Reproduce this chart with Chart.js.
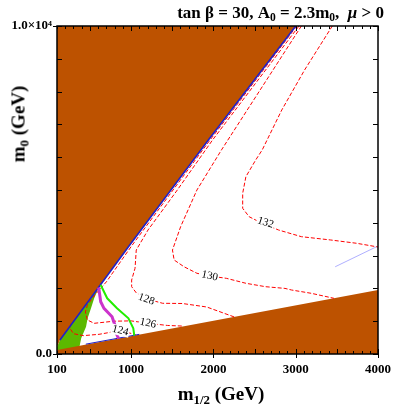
<!DOCTYPE html>
<html>
<head>
<meta charset="utf-8">
<script src="https://cdn.jsdelivr.net/npm/chart.js@4.4.1/dist/chart.umd.min.js"></script>
<style>
  body { margin: 0; background: #fff; }
  #wrap { position: relative; width: 399px; height: 415px; font-family: 'Liberation Serif', 'DejaVu Serif', serif; }
  #plot { position: absolute; left: 0; top: 0; }
  .lbl { position: absolute; font-weight: bold; color: #000; white-space: nowrap; line-height: 1; }
  .lbl sub { font-size: 0.68em; vertical-align: -0.3em; line-height: 0; }
  #title { right: 15px; top: 4px; font-size: 17px; }
  #xtitle { left: 221px; top: 384px; font-size: 19px; transform: translateX(-50%); }
  #ytitle { left: 18px; top: 124px; font-size: 19px; transform: translate(-50%, -50%) rotate(-90deg); }
</style>
</head>
<body>
<div id="wrap">
  <canvas id="plot" width="399" height="415"></canvas>
  <div class="lbl" id="title">tan β = 30, A<sub>0</sub> = 2.3m<sub>0</sub>,&nbsp; <i>μ</i> &gt; 0</div>
  <div class="lbl" id="xtitle">m<sub>1/2</sub> (GeV)</div>
  <div class="lbl" id="ytitle">m<sub>0</sub> (GeV)</div>
</div>
<script>
// axis ticks
const m12Ticks = [100, 1000, 2000, 3000, 4000];
const m0Ticks = [0, 10000];
const m0TickLabels = ['0.0', '1.0×10⁴'];

// excluded regions (brown)
const brownLeftX = [100, 136, 611, 968, 1939, 3001, 100];
const brownLeftY = [213, 427, 2052, 3272, 6525, 10000, 10000];
const brownLowX = [100, 100, 4000, 4000];
const brownLowY = [0, 122, 1950, 0];

// green shaded region
const greenX = [100, 100, 136, 611, 552, 513, 472, 453, 394, 373, 380];
const greenY = [100, 213, 427, 2052, 1698, 1393, 1088, 832, 479, 223, 150];

// boundary / constraint lines
const blueX = [136, 611, 968, 1939, 3001];
const blueY = [427, 2052, 3272, 6525, 10000];
const blueLowX = [450, 1100];
const blueLowY = [300, 600];
const faintX = [3480, 3990];
const faintY = [2660, 3280];
const limeX = [631, 710, 829, 968, 1027, 1039];
const limeY = [2104, 1698, 1393, 1088, 784, 560];
const magX = [605, 611, 631, 671, 769, 810, 829, 849];
const magY = [2030, 1951, 1595, 1393, 1137, 832, 579, 470];

// Higgs mass contours (GeV)
const h124X = [270, 258, 300, 420, 611, 790, 869, 960, 1060];
const h124Y = [930, 780, 620, 560, 600, 680, 710, 660, 575];
const h126X = [3013, 1960, 1000, 700, 560, 469, 445, 469, 552, 790, 1000, 1206, 1444, 1640];
const h126Y = [10000, 6525, 3272, 2200, 1800, 1494, 1281, 1037, 936, 1000, 1010, 936, 870, 850];
const h128X = [3040, 1990, 1562, 1206, 1063, 1048, 1007, 1007, 1067, 1206, 1384, 1622, 1919, 2252];
const h128Y = [10000, 6525, 5000, 3781, 3171, 2613, 2256, 2052, 1851, 1668, 1546, 1540, 1433, 1131];
const h130X = [3069, 2098, 1800, 1602, 1503, 1523, 1642, 1800, 1955, 2157, 2395, 2633, 2870, 2950, 3188, 3465];
const h130Y = [10000, 6220, 5000, 3881, 3171, 2866, 2662, 2461, 2378, 2308, 2156, 2052, 2000, 1951, 1851, 1698];
const h132X = [3445, 3108, 2831, 2593, 2514, 2395, 2356, 2356, 2434, 2553, 2791, 3069, 3426, 3742, 4000];
const h132Y = [10000, 8659, 7440, 6220, 5915, 5406, 4900, 4442, 4186, 4034, 3781, 3577, 3476, 3375, 3262];

const contourNames = ['124', '126', '128', '130', '132'];
const contourLabelX = [869, 1206, 1185, 1955, 2633];
const contourLabelY = [710, 936, 1668, 2378, 4003];
const contourLabelAngle = [14, 12, 20, 12, 18];

const BROWN = '#bd5200';
const toPts = (xs, ys) => xs.map((x, i) => ({ x, y: ys[i] }));

function area(xs, ys, color, order) {
  return { data: toPts(xs, ys), fill: 'shape', backgroundColor: color, borderWidth: 0,
           pointRadius: 0, tension: 0, order };
}
function curve(xs, ys, color, width, dash, order) {
  return { data: toPts(xs, ys), fill: false, borderColor: color, borderWidth: width,
           borderDash: dash, pointRadius: 0, tension: 0, order };
}

const serif = 'Liberation Serif';

const framePlugin = {
  id: 'frame',
  afterDatasetsDraw(chart) {
    const { ctx, chartArea: a, scales } = chart;
    ctx.save();
    // contour labels
    ctx.font = '11px ' + serif;
    ctx.textAlign = 'center';
    ctx.textBaseline = 'middle';
    contourNames.forEach((t, i) => {
      const px = scales.x.getPixelForValue(contourLabelX[i]);
      const py = scales.y.getPixelForValue(contourLabelY[i]);
      ctx.save();
      ctx.translate(px, py);
      ctx.rotate(contourLabelAngle[i] * Math.PI / 180);
      const w = ctx.measureText(t).width;
      ctx.fillStyle = '#fff';
      ctx.fillRect(-w / 2 - 1, -5, w + 2, 10);
      ctx.fillStyle = '#000';
      ctx.fillText(t, 0, 0);
      ctx.restore();
    });
    // frame
    ctx.strokeStyle = '#000';
    ctx.lineWidth = 1.5;
    ctx.strokeRect(a.left, a.top, a.right - a.left, a.bottom - a.top);
    ctx.lineWidth = 1;
    ctx.beginPath();
    for (let v = 100; v <= 4000; v += 100) {
      const px = Math.round(scales.x.getPixelForValue(v)) + 0.5;
      const len = v % 500 === 0 ? 5 : 3;
      ctx.moveTo(px, a.bottom); ctx.lineTo(px, a.bottom - len);
      ctx.moveTo(px, a.top); ctx.lineTo(px, a.top + len);
    }
    for (let v = 0; v <= 10000; v += 1000) {
      const py = Math.round(scales.y.getPixelForValue(v)) + 0.5;
      ctx.moveTo(a.left, py); ctx.lineTo(a.left + 5, py);
      ctx.moveTo(a.right, py); ctx.lineTo(a.right - 5, py);
    }
    m12Ticks.forEach(v => {
      const px = Math.round(scales.x.getPixelForValue(v)) + 0.5;
      ctx.moveTo(px, a.bottom); ctx.lineTo(px, a.bottom + 4);
    });
    m0Ticks.forEach(v => {
      const py = Math.round(scales.y.getPixelForValue(v)) + 0.5;
      ctx.moveTo(a.left, py); ctx.lineTo(a.left - 4, py);
    });
    ctx.stroke();
    ctx.restore();
  }
};

new Chart(document.getElementById('plot'), {
  type: 'line',
  data: {
    datasets: [
      area(greenX, greenY, '#5cb800', 12),
      area(brownLeftX, brownLeftY, BROWN, 11),
      area(brownLowX, brownLowY, BROWN, 11),
      curve(faintX, faintY, 'rgba(110,110,255,0.55)', 1, [], 8),
      curve(h124X, h124Y, '#ff0000', 1, [4, 2], 7),
      curve(h126X, h126Y, '#ff0000', 1, [4, 2], 7),
      curve(h128X, h128Y, '#ff0000', 1, [4, 2], 7),
      curve(h130X, h130Y, '#ff0000', 1, [4, 2], 7),
      curve(h132X, h132Y, '#ff0000', 1, [4, 2], 7),
      curve(blueX, blueY, '#2020c8', 1.6, [], 5),
      curve(blueLowX, blueLowY, '#2020c8', 1, [], 5),
      curve(limeX, limeY, '#22ee00', 2, [], 3),
      curve(magX, magY, '#cc33cc', 3, [], 2)
    ]
  },
  options: {
    responsive: false,
    animation: false,
    layout: { padding: { left: 0, right: 14, top: 26, bottom: 0 } },
    plugins: { legend: { display: false }, tooltip: { enabled: false }, title: { display: false } },
    scales: {
      x: {
        type: 'linear', min: 100, max: 4000,
        afterBuildTicks: s => { s.ticks = m12Ticks.map(v => ({ value: v })); },
        afterFit: s => { s.height = 61; },
        grid: { display: false, drawTicks: false },
        border: { display: false },
        ticks: { color: '#000', padding: 8, maxRotation: 0, autoSkip: false,
                 callback: v => String(v),
                 font: { family: serif, weight: 'bold', size: 13 } }
      },
      y: {
        type: 'linear', min: 0, max: 10000,
        afterBuildTicks: s => { s.ticks = m0Ticks.map(v => ({ value: v })); },
        afterFit: s => { s.width = 57; },
        grid: { display: false, drawTicks: false },
        border: { display: false },
        ticks: { color: '#000', padding: 5, autoSkip: false,
                 callback: v => m0TickLabels[m0Ticks.indexOf(v)],
                 font: { family: serif, weight: 'bold', size: 13 } }
      }
    }
  },
  plugins: [framePlugin]
});
</script>
</body>
</html>
